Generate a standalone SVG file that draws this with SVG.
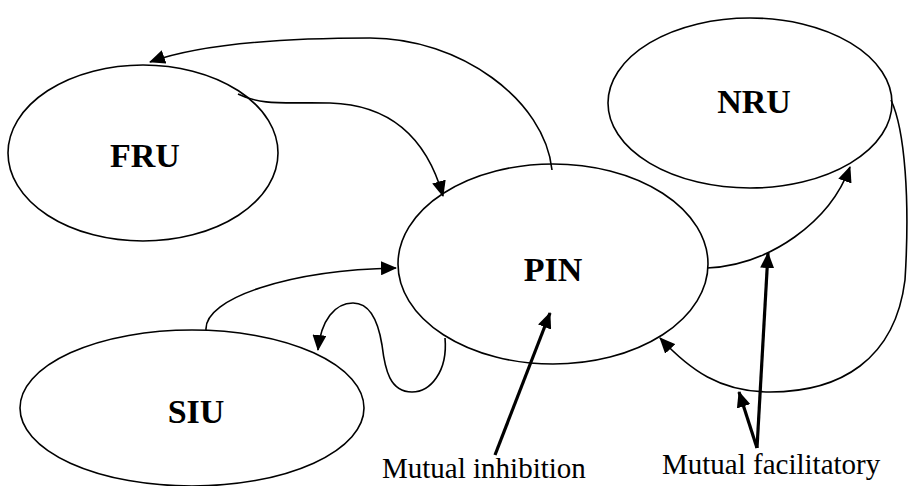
<svg xmlns="http://www.w3.org/2000/svg" width="908" height="486" viewBox="0 0 908 486">
<style>
.node{fill:#fff;stroke:#000;stroke-width:1.6}
.lbl{font-family:"Liberation Serif","Times New Roman",serif;font-weight:bold;font-size:34px;text-anchor:middle}
.cap{font-family:"Liberation Serif","Times New Roman",serif;font-size:29px}
.c{fill:none;stroke:#000;stroke-width:1.6}
.t{fill:none;stroke:#000;stroke-width:3.2}
</style>
<defs>
<marker id="ah" viewBox="0 0 16 14" refX="15" refY="7" markerWidth="16" markerHeight="14" markerUnits="userSpaceOnUse" orient="auto">
<path d="M0,0 L16,7 L0,14 Z" fill="#000"/>
</marker>
</defs>
<rect width="908" height="486" fill="#fff"/>
<g id="FRU"><ellipse class="node" cx="143" cy="153" rx="135" ry="88"/><text class="lbl" x="145" y="167">FRU</text></g>
<g id="NRU"><ellipse class="node" cx="750" cy="103" rx="142" ry="85"/><text class="lbl" x="754" y="113">NRU</text></g>
<g id="PIN"><ellipse class="node" cx="553" cy="264" rx="155" ry="100"/><text class="lbl" x="553" y="281">PIN</text></g>
<g id="SIU"><ellipse class="node" cx="192" cy="408" rx="172" ry="78"/><text class="lbl" x="196" y="423">SIU</text></g>
<g id="connectors">
<path class="c" marker-end="url(#ah)" d="M552,170 C545,100 460,38 370,38 C280,38 200,44 150,62"/>
<path class="c" marker-end="url(#ah)" d="M238,94 C262,106 285,102 330,103 C400,105 430,150 443,196"/>
<path class="c" marker-end="url(#ah)" d="M206,330 C204,298 290,270 396,268"/>
<path class="c" marker-end="url(#ah)" d="M445,338 C448,372 430,392 412,392 C390,392 385,370 382,345 C378,320 370,303 353,303 C335,303 321,320 318,350"/>
<path class="c" marker-end="url(#ah)" d="M707,268 C770,265 830,222 850,167"/>
<path class="c" marker-end="url(#ah)" d="M891,100 C905,130 910,200 905,280 C895,360 840,392 770,392 C720,392 690,370 660,338"/>
<path class="t" marker-end="url(#ah)" d="M495,455 L550,313"/>
<path class="t" marker-end="url(#ah)" d="M757,448 L768,253"/>
<path class="t" marker-end="url(#ah)" d="M757,448 L739,392"/>
</g>
<text class="cap" x="382" y="478">Mutual inhibition</text>
<text class="cap" x="662" y="474">Mutual facilitatory</text>
</svg>
